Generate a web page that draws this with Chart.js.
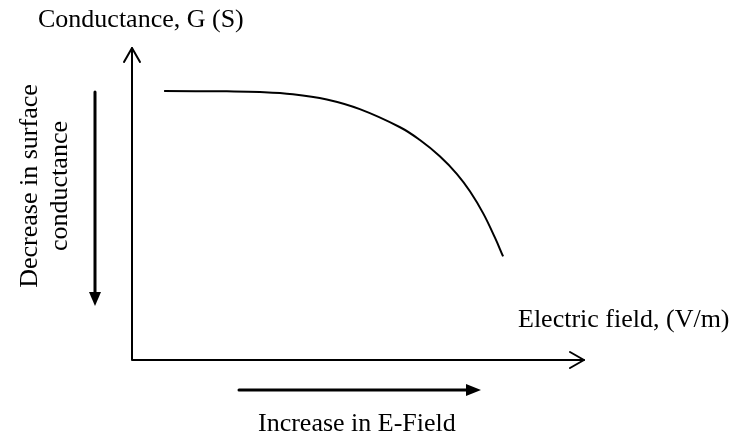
<!DOCTYPE html>
<html>
<head>
<meta charset="utf-8">
<script src="https://cdn.jsdelivr.net/npm/chart.js@4"></script>
<style>
  html, body { margin: 0; padding: 0; background: #fff; }
  #wrap { width: 738px; height: 442px; }
</style>
</head>
<body>
<div id="wrap"><canvas id="chart"></canvas></div>
<script>
// electric field (arbitrary units, 0-100 along the axis)
const fieldValues = [7.1, 21.0, 28.3, 35.6, 43.1, 50.4, 59.3, 63.7, 68.1, 71.9, 74.8, 77.7, 80.3, 82.1];
// conductance (arbitrary units, 0-100 along the axis)
const conductanceValues = [86.2, 86.1, 85.9, 85.2, 83.5, 80.4, 74.6, 70.5, 65.3, 59.6, 54.0, 47.0, 39.2, 33.2];

const yTitle = "Conductance, G (S)";
const xTitle = "Electric field, (V/m)";
const sideNote = ["Decrease in surface", "conductance"];
const bottomNote = "Increase in E-Field";

const points = fieldValues.map((x, i) => ({ x: x, y: conductanceValues[i] }));
const serif = '"Liberation Serif", "Times New Roman", serif';

// draws the axes with arrows and the annotation text
const sketchPlugin = {
    id: 'sketch',
    afterDraw(chart) {
        const ctx = chart.ctx;
        const xs = chart.scales.x;
        const ys = chart.scales.y;
        const x0 = xs.getPixelForValue(0), x1 = xs.getPixelForValue(100);
        const y0 = ys.getPixelForValue(0), y1 = ys.getPixelForValue(100);

        ctx.save();
        ctx.strokeStyle = '#000';
        ctx.fillStyle = '#000';
        ctx.lineCap = 'round';
        ctx.lineJoin = 'round';

        // main axes
        ctx.lineWidth = 2;
        ctx.beginPath();
        ctx.moveTo(x0, y1);
        ctx.lineTo(x0, y0);
        ctx.lineTo(x1, y0);
        ctx.stroke();
        // open arrow heads
        ctx.beginPath();
        ctx.moveTo(x0 - 8, y1 + 14);
        ctx.lineTo(x0, y1);
        ctx.lineTo(x0 + 8, y1 + 14);
        ctx.moveTo(x1 - 14, y0 - 8);
        ctx.lineTo(x1, y0);
        ctx.lineTo(x1 - 14, y0 + 8);
        ctx.stroke();

        // left "decrease" arrow
        ctx.lineWidth = 3;
        ctx.beginPath();
        ctx.moveTo(95, 92);
        ctx.lineTo(95, 295);
        ctx.stroke();
        ctx.beginPath();
        ctx.moveTo(89, 292);
        ctx.lineTo(101, 292);
        ctx.lineTo(95, 306);
        ctx.closePath();
        ctx.fill();

        // bottom "increase" arrow
        ctx.beginPath();
        ctx.moveTo(239, 390);
        ctx.lineTo(468, 390);
        ctx.stroke();
        ctx.beginPath();
        ctx.moveTo(466, 384);
        ctx.lineTo(466, 396);
        ctx.lineTo(481, 390);
        ctx.closePath();
        ctx.fill();

        // text
        ctx.font = '26px ' + serif;
        ctx.textBaseline = 'alphabetic';
        ctx.textAlign = 'left';
        ctx.fillText(yTitle, 38, 27);
        ctx.fillText(xTitle, 518, 327);
        ctx.fillText(bottomNote, 258, 431);

        ctx.translate(0, 186);
        ctx.rotate(-Math.PI / 2);
        ctx.textAlign = 'center';
        ctx.fillText(sideNote[0], 0, 37);
        ctx.fillText(sideNote[1], 0, 67);
        ctx.restore();
    }
};

new Chart(document.getElementById('chart'), {
    type: 'scatter',
    data: {
        datasets: [{
            data: points,
            showLine: true,
            borderColor: '#000',
            borderWidth: 2,
            pointRadius: 0,
            tension: 0.4,
            fill: false
        }]
    },
    options: {
        responsive: true,
        maintainAspectRatio: false,
        animation: false,
        layout: { padding: { left: 132, right: 154, top: 48, bottom: 82 } },
        plugins: { legend: { display: false }, tooltip: { enabled: false } },
        scales: {
            x: { type: 'linear', min: 0, max: 100, display: false },
            y: { type: 'linear', min: 0, max: 100, display: false }
        }
    },
    plugins: [sketchPlugin]
});
</script>
</body>
</html>
